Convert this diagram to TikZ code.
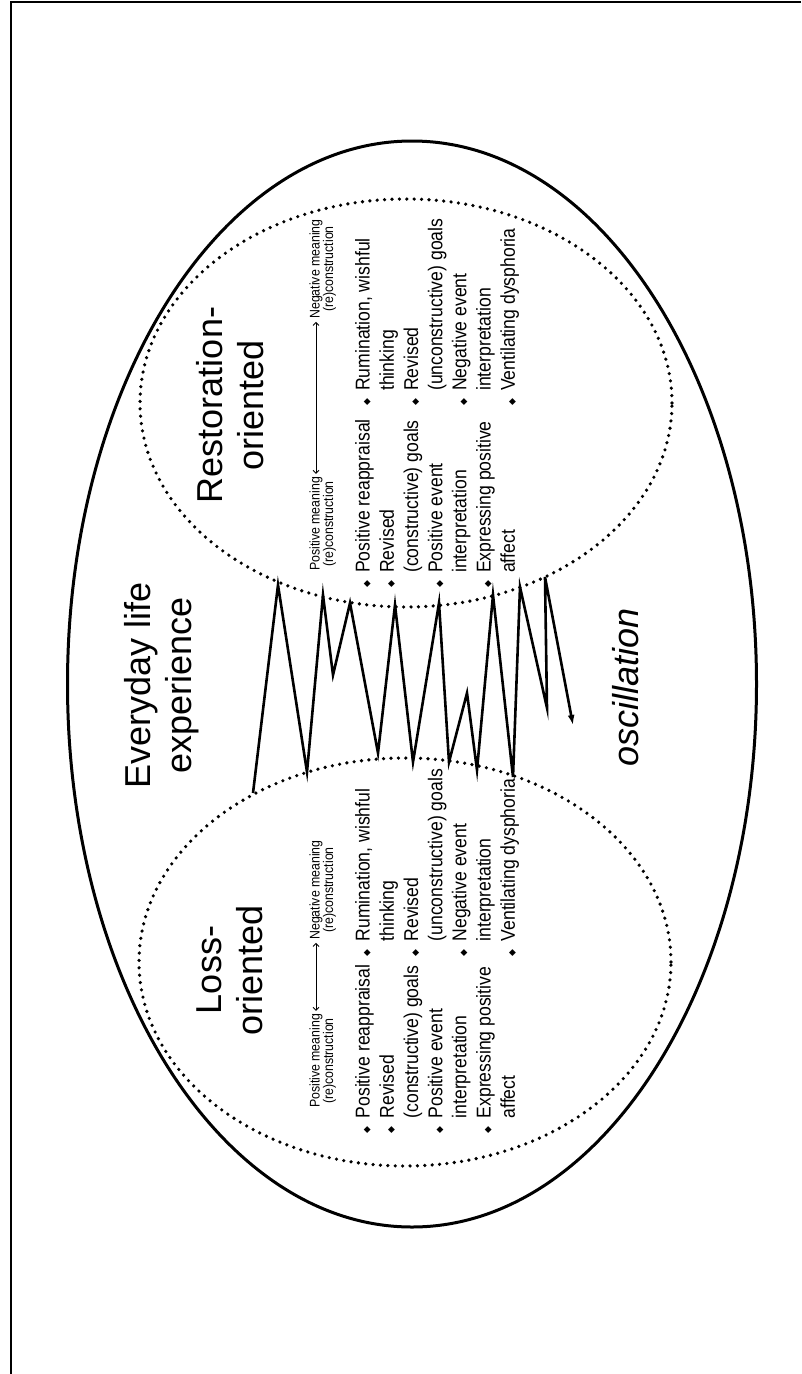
\documentclass[tikz,border=0pt]{standalone}
\usepackage{fontspec}
\setmainfont{Liberation Sans}
\newfontfamily\narrowfont[FakeStretch=0.88]{Liberation Sans}
\newfontfamily\symfont{DejaVu Sans}
\usetikzlibrary{shapes.geometric,arrows.meta}
\newcommand{\bulit}{\makebox[15pt][l]{\symfont\fontsize{9}{9}\selectfont ◆}}
\newcommand{\contl}{\hspace*{15pt}}
\tikzset{
  ring/.style={ellipse, draw, line width=3.6pt, dash pattern=on 0pt off 7.4pt, line cap=round,
    minimum width=532pt, minimum height=408pt, inner sep=0pt},
  bigtext/.style={rotate=90, align=center, inner sep=0pt, font=\fontsize{36}{41}\selectfont},
  hdr/.style={rotate=90, inner sep=0pt, font=\narrowfont\fontsize{14}{14}\selectfont},
  lst/.style={rotate=90, align=left, inner sep=0pt, anchor=north west,
    font=\narrowfont\fontsize{20}{24.2}\selectfont},
  hdrarrow/.style={{Straight Barb[length=3pt,width=6pt]}-{Straight Barb[length=3pt,width=6pt]},
    line width=0.9pt, shorten <=3pt, shorten >=3pt}
}
\begin{document}
\begin{tikzpicture}[x=1pt, y=-1pt]
  \useasboundingbox (0,0) rectangle (801,1374);
  \draw[line width=1.5pt] (801,2) -- (11,2) -- (11,1374);
  \node[ellipse, draw, line width=3pt, minimum width=689pt, minimum height=1086pt, inner sep=0pt] (life) at (412,684) {};
  \node[ring] (resto) at (406,403) {};
  \node[ring] (loss) at (405,962) {};

  \node[bigtext] (every) at (162,685) {Everyday life\\experience};
  \node[bigtext] (losst) at (230,970) {Loss-\\oriented};
  \node[bigtext] (restot) at (230,405) {Restoration-\\oriented};
  \node[bigtext, font=\itshape\fontsize{36}{41}\selectfont] (osc) at (626,687) {oscillation};

  % loss-oriented
  \node[hdr] (lposa) at (316,1061) {Positive meaning};
  \node[hdr, anchor=north] (lposb) at (lposa.south) {(re)construction};
  \node[hdr] (lnega) at (316,890) {Negative meaning};
  \node[hdr, anchor=north] (lnegb) at (lnega.south) {(re)construction};
  \draw[hdrarrow] (lposa.east) -- (lnega.west);
  \node[lst] (lcol1) at (355,1133.5) {\bulit Positive reappraisal\\\bulit Revised\\\contl(constructive) goals\\
    \bulit Positive event\\\contl interpretation\\\bulit Expressing positive\\\contl affect};
  \node[lst] (lcol2) at (355,956.5) {\bulit Rumination, wishful\\\contl thinking\\\bulit Revised\\
    \contl(unconstructive) goals\\\bulit Negative event\\\contl interpretation\\\bulit Ventilating dysphoria};

  % restoration-oriented
  \node[hdr] (rposa) at (316,524) {Positive meaning};
  \node[hdr, anchor=north] (rposb) at (rposa.south) {(re)construction};
  \node[hdr] (rnega) at (316,269) {Negative meaning};
  \node[hdr, anchor=north] (rnegb) at (rnega.south) {(re)construction};
  \draw[hdrarrow] (rposa.east) -- (rnega.west);
  \node[lst] (rcol1) at (355,588) {\bulit Positive reappraisal\\\bulit Revised\\\contl(constructive) goals\\
    \bulit Positive event\\\contl interpretation\\\bulit Expressing positive\\\contl affect};
  \node[lst] (rcol2) at (355,406) {\bulit Rumination, wishful\\\contl thinking\\\bulit Revised\\
    \contl(unconstructive) goals\\\bulit Negative event\\\contl interpretation\\\bulit Ventilating dysphoria};

  % oscillation zigzag
  \foreach \n/\px/\py in {0/253/793, 1/278/585, 2/307/772, 3/323/595, 4/333/675, 5/350/603,
      6/378/753, 7/395/605, 8/413/762, 9/439/603, 10/449/762, 11/467/693, 12/477/770,
      13/493/595, 14/513/777, 15/520/587, 16/547/708, 17/545/577, 18/573/725}
    \coordinate (z\n) at (\px,\py);
  \draw[line width=2.6pt, -{Latex[length=10pt,width=7pt]}] (z0) \foreach \n in {1,...,18} {-- (z\n)};
\end{tikzpicture}
\end{document}
